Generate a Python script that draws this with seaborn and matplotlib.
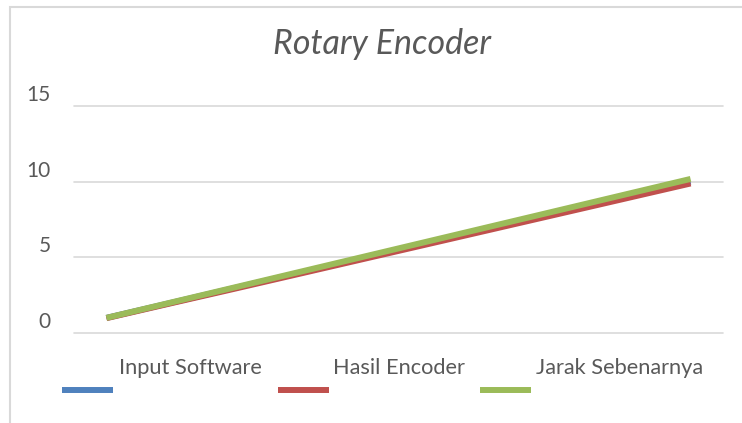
import pandas as pd
import seaborn as sns
import matplotlib.pyplot as plt
from matplotlib.lines import Line2D
from matplotlib.patches import Rectangle
from matplotlib.transforms import ScaledTranslation

# data
x_vals = [1, 2, 3, 4, 5, 6, 7, 8, 9, 10]
input_software = [1, 2, 3, 4, 5, 6, 7, 8, 9, 10]
hasil_encoder = [0.98, 1.97, 2.95, 3.94, 4.93, 5.92, 6.91, 7.90, 8.89, 9.88]
jarak_sebenarnya = [1.0, 2.02, 3.04, 4.06, 5.08, 6.10, 7.12, 8.14, 9.16, 10.18]
series_names = ['Input Software', 'Hasil Encoder', 'Jarak Sebenarnya']
colors = ['#4F81BD', '#C0504D', '#9BBB59']
yticks = [0, 5, 10, 15]

W, H = 742, 423
text_color = '#595959'
grid_color = '#D9D9D9'

df = pd.DataFrame({
    'x': x_vals * 3,
    'y': input_software + hasil_encoder + jarak_sebenarnya,
    'seri': [series_names[0]] * 10 + [series_names[1]] * 10 + [series_names[2]] * 10,
})

sns.set_style('white')
plt.rcParams['font.family'] = ['Lato', 'DejaVu Sans']

fig = plt.figure(figsize=(W / 100, H / 100), dpi=100)
ax = fig.add_axes([74 / W, 1 - 333 / H, (723 - 74) / W, (333 - 106) / H])

sns.lineplot(data=df, x='x', y='y', hue='seri', palette=colors,
             linewidth=4.3, legend=False, ax=ax, solid_capstyle='butt')

ax.set_xlim(0.5, 10.5)
ax.set_ylim(0, 15)
ax.set_yticks(yticks)
ax.set_xticks([])
ax.set_xlabel('')
ax.set_ylabel('')
for s in ax.spines.values():
    s.set_visible(False)
ax.grid(axis='y', color=grid_color, linewidth=1.2)
ax.set_axisbelow(True)
for gl in ax.get_ygridlines():
    gl.set_clip_on(False)
ax.tick_params(axis='y', length=0, pad=16.6, labelsize=15, labelcolor=text_color)
shift = ScaledTranslation(0, 0.13, fig.dpi_scale_trans)
for lab in ax.get_yticklabels():
    lab.set_transform(lab.get_transform() + shift)

# title
fig.text(382 / W, 1 - 44 / H, 'Rotary Encoder', ha='center', va='center',
         fontsize=24.5, style='italic', color=text_color)

# legend, Excel style: swatch below-left of the label
sw_x = [62, 278, 480]
txt_x = [119, 333, 536]
for i in range(3):
    fig.add_artist(Line2D([sw_x[i] / W, (sw_x[i] + 51) / W], [1 - 389.5 / H] * 2,
                          color=colors[i], linewidth=4.3, solid_capstyle='butt'))
    fig.text(txt_x[i] / W, 1 - 368 / H, series_names[i], ha='left', va='center',
             fontsize=15.7, color=text_color)

# chart border (only left and top visible)
fig.add_artist(Rectangle((10 / W, -0.1), 1.1, 1 - 7 / H + 0.1,
                         transform=fig.transFigure, fill=False,
                         edgecolor=grid_color, linewidth=1.5))

fig.savefig('out.png', dpi=100)
